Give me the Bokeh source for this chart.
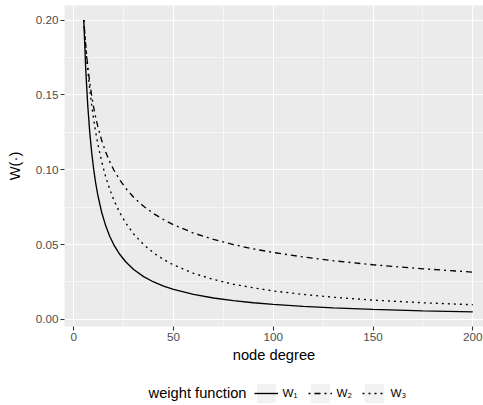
from bokeh.plotting import figure
from bokeh.layouts import column
from bokeh.models import FixedTicker, NumeralTickFormatter, Legend, LegendItem, Range1d, Label
from bokeh.embed import file_html
from bokeh.resources import INLINE

# node degree values (x) and the three weight functions
degree = [5, 6, 7, 8, 9, 10, 11, 12, 14, 16, 18, 20, 23, 26, 30, 35, 40, 45, 50,
          60, 70, 80, 90, 100, 115, 130, 150, 175, 200]
w1 = [0.2, 0.1667, 0.1429, 0.125, 0.1111, 0.1, 0.0909, 0.0833, 0.0714, 0.0625,
      0.0556, 0.05, 0.0435, 0.0385, 0.0333, 0.0286, 0.025, 0.0222, 0.02,
      0.0167, 0.0143, 0.0125, 0.0111, 0.01, 0.0087, 0.0077, 0.0067, 0.0057, 0.005]
w2 = [0.2, 0.1826, 0.169, 0.1581, 0.1491, 0.1414, 0.1348, 0.1291, 0.1195, 0.1118,
      0.1054, 0.1, 0.0933, 0.0877, 0.0816, 0.0756, 0.0707, 0.0667, 0.0632,
      0.0577, 0.0535, 0.05, 0.0471, 0.0447, 0.0417, 0.0392, 0.0365, 0.0338, 0.0316]
w3 = [0.2, 0.1818, 0.1667, 0.1538, 0.1429, 0.1333, 0.125, 0.1176, 0.1053, 0.0952,
      0.087, 0.08, 0.0714, 0.0645, 0.0571, 0.05, 0.0444, 0.04, 0.0364,
      0.0308, 0.0267, 0.0235, 0.0211, 0.019, 0.0167, 0.0148, 0.0129, 0.0111, 0.0098]

x_ticks = [0, 50, 100, 150, 200]
x_minor = [25, 75, 125, 175]
y_ticks = [0.0, 0.05, 0.10, 0.15, 0.20]
y_minor = [0.025, 0.075, 0.125, 0.175]
series = [w1, w2, w3]
series_labels = ["W\u2081", "W\u2082", "W\u2083"]
series_dash = ["solid", "2 4 6 4", "2 4"]
legend_title = "weight function"

FONT = "Liberation Sans"
LW = 1.35

p = figure(width=483, height=366, output_backend="svg", toolbar_location=None,
           x_range=Range1d(-4.66, 205.37), y_range=Range1d(-0.00475, 0.20975),
           min_border_left=64, min_border_right=0, min_border_top=5,
           min_border_bottom=40, background_fill_color="#EBEBEB",
           border_fill_color="white", outline_line_color=None)

# grids
for g in (p.xgrid, p.ygrid):
    g.grid_line_color = "white"
    g.grid_line_width = 1.1
    g.minor_grid_line_color = "white"
    g.minor_grid_line_width = 0.55

p.xaxis.ticker = FixedTicker(ticks=x_ticks, minor_ticks=x_minor)
p.yaxis.ticker = FixedTicker(ticks=y_ticks, minor_ticks=y_minor)
p.yaxis.formatter = NumeralTickFormatter(format="0.00")

for ax in (p.xaxis, p.yaxis):
    ax.axis_line_color = None
    ax.major_tick_line_color = "#333333"
    ax.major_tick_line_width = 1.1
    ax.major_tick_out = 4
    ax.major_tick_in = 0
    ax.minor_tick_line_color = None
    ax.major_label_text_font = FONT
    ax.major_label_text_font_size = "11.7px"
    ax.major_label_text_color = "#4D4D4D"
    ax.major_label_standoff = 2
    ax.axis_label_text_font = FONT
    ax.axis_label_text_font_size = "14.7px"
    ax.axis_label_text_font_style = "normal"
    ax.axis_label_text_color = "black"

p.xaxis.axis_label = "node degree"
p.xaxis.axis_label_standoff = 3
p.yaxis.axis_label = "W(\u00b7)"
p.yaxis.axis_label_standoff = 10

for ys, dash in zip(series, series_dash):
    p.line(degree, ys, line_color="black", line_width=LW, line_dash=dash)

# ---- legend strip below the plot (its frame is aligned with the main frame) ----
lf = figure(width=483, height=39, output_backend="svg", toolbar_location=None,
            x_range=Range1d(-2, -1), y_range=Range1d(-2, -1),
            x_axis_location=None, y_axis_location=None,
            min_border_left=0, min_border_right=0, min_border_top=0, min_border_bottom=0,
            background_fill_color="white", border_fill_color="white",
            outline_line_color=None)
lf.xgrid.visible = False
lf.ygrid.visible = False

# legend-key renderers reuse the data but lie outside this strip's ranges
bg = lf.rect(x=degree, y=w1, width=1, height=1, fill_color="#F2F2F2", line_color=None)
items = []
for ys, lab, dash in zip(series, series_labels, series_dash):
    r = lf.line(x=degree, y=ys, line_color="black", line_width=LW, line_dash=dash)
    items.append(LegendItem(label=lab, renderers=[bg, r]))

legend = Legend(items=items, orientation="horizontal", location=(189.5, 0.5),
                glyph_width=24, glyph_height=24, label_width=20, label_height=20,
                spacing=5, label_standoff=5, padding=0, margin=0,
                border_line_color=None, background_fill_alpha=0)
legend.label_text_font = FONT
legend.label_text_font_size = "11.7px"
legend.label_text_color = "black"
lf.add_layout(legend, "center")

title = Label(x=182, y=12.5, x_units="screen", y_units="screen", text=legend_title,
              text_align="right", text_baseline="middle", text_font=FONT,
              text_font_size="14.7px", text_color="black")
lf.add_layout(title, "center")

layout = column(p, lf, spacing=0)
open("out.html", "w").write(file_html(layout, INLINE))
